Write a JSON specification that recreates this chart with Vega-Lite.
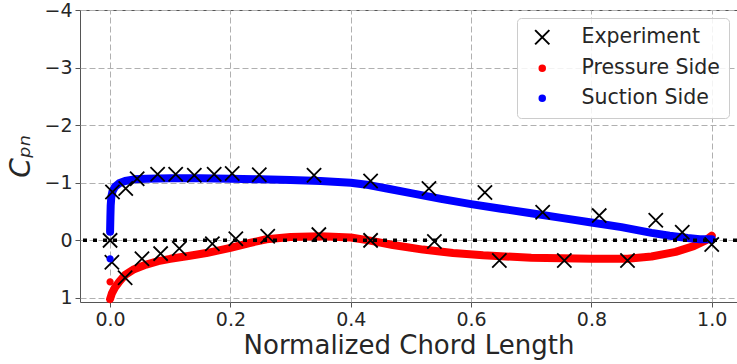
{
  "$schema": "https://vega.github.io/schema/vega-lite/v6.json",
  "autosize": "none",
  "width": 657,
  "height": 292,
  "padding": {"left": 80, "top": 10, "right": 0, "bottom": 62},
  "config": {
    "font": "DejaVu Sans",
    "view": {"stroke": "#555555", "strokeWidth": 1},
    "axis": {
      "labelFontSize": 19,
      "labelColor": "#262626",
      "titleColor": "#262626",
      "titleFontWeight": "normal",
      "tickColor": "#555555",
      "tickSize": 5,
      "domain": false,
      "gridColor": "#b0b0b0",
      "gridDash": [6, 3],
      "gridWidth": 1,
      "labelPadding": 3
    },
    "legend": {
      "orient": "top-right",
      "offset": 8,
      "labelFontSize": 20.5,
      "labelColor": "#262626",
      "strokeColor": "#cccccc",
      "fillColor": "rgba(255,255,255,0.85)",
      "cornerRadius": 4,
      "padding": 9,
      "rowPadding": 9,
      "symbolOffset": 6,
      "labelOffset": 29,
      "symbolSize": 30,
      "symbolStrokeWidth": 2
    }
  },
  "datasets": {
    "curves": [
      {"x": 0.0, "cp": 1.02, "series": "Pressure Side"},
      {"x": 0.003, "cp": 0.92, "series": "Pressure Side"},
      {"x": 0.008, "cp": 0.82, "series": "Pressure Side"},
      {"x": 0.015, "cp": 0.72, "series": "Pressure Side"},
      {"x": 0.025, "cp": 0.6, "series": "Pressure Side"},
      {"x": 0.04, "cp": 0.5, "series": "Pressure Side"},
      {"x": 0.06, "cp": 0.42, "series": "Pressure Side"},
      {"x": 0.08, "cp": 0.36, "series": "Pressure Side"},
      {"x": 0.1, "cp": 0.32, "series": "Pressure Side"},
      {"x": 0.13, "cp": 0.27, "series": "Pressure Side"},
      {"x": 0.16, "cp": 0.22, "series": "Pressure Side"},
      {"x": 0.2, "cp": 0.13, "series": "Pressure Side"},
      {"x": 0.23, "cp": 0.05, "series": "Pressure Side"},
      {"x": 0.26, "cp": -0.02, "series": "Pressure Side"},
      {"x": 0.3, "cp": -0.06, "series": "Pressure Side"},
      {"x": 0.35, "cp": -0.07, "series": "Pressure Side"},
      {"x": 0.4, "cp": -0.05, "series": "Pressure Side"},
      {"x": 0.43, "cp": 0.0, "series": "Pressure Side"},
      {"x": 0.47, "cp": 0.08, "series": "Pressure Side"},
      {"x": 0.52, "cp": 0.16, "series": "Pressure Side"},
      {"x": 0.57, "cp": 0.22, "series": "Pressure Side"},
      {"x": 0.62, "cp": 0.26, "series": "Pressure Side"},
      {"x": 0.7, "cp": 0.3, "series": "Pressure Side"},
      {"x": 0.8, "cp": 0.32, "series": "Pressure Side"},
      {"x": 0.86, "cp": 0.32, "series": "Pressure Side"},
      {"x": 0.9, "cp": 0.28, "series": "Pressure Side"},
      {"x": 0.94, "cp": 0.2, "series": "Pressure Side"},
      {"x": 0.97, "cp": 0.1, "series": "Pressure Side"},
      {"x": 0.99, "cp": 0.0, "series": "Pressure Side"},
      {"x": 1.0, "cp": -0.08, "series": "Pressure Side"},
      {"x": 0.0, "cp": -0.15, "series": "Suction Side"},
      {"x": 0.0005, "cp": -0.4, "series": "Suction Side"},
      {"x": 0.001, "cp": -0.6, "series": "Suction Side"},
      {"x": 0.002, "cp": -0.75, "series": "Suction Side"},
      {"x": 0.004, "cp": -0.85, "series": "Suction Side"},
      {"x": 0.008, "cp": -0.93, "series": "Suction Side"},
      {"x": 0.015, "cp": -0.99, "series": "Suction Side"},
      {"x": 0.025, "cp": -1.03, "series": "Suction Side"},
      {"x": 0.04, "cp": -1.06, "series": "Suction Side"},
      {"x": 0.06, "cp": -1.07, "series": "Suction Side"},
      {"x": 0.1, "cp": -1.08, "series": "Suction Side"},
      {"x": 0.15, "cp": -1.08, "series": "Suction Side"},
      {"x": 0.2, "cp": -1.07, "series": "Suction Side"},
      {"x": 0.25, "cp": -1.06, "series": "Suction Side"},
      {"x": 0.3, "cp": -1.05, "series": "Suction Side"},
      {"x": 0.35, "cp": -1.03, "series": "Suction Side"},
      {"x": 0.4, "cp": -1.0, "series": "Suction Side"},
      {"x": 0.43, "cp": -0.96, "series": "Suction Side"},
      {"x": 0.46, "cp": -0.9, "series": "Suction Side"},
      {"x": 0.5, "cp": -0.82, "series": "Suction Side"},
      {"x": 0.55, "cp": -0.72, "series": "Suction Side"},
      {"x": 0.6, "cp": -0.63, "series": "Suction Side"},
      {"x": 0.65, "cp": -0.55, "series": "Suction Side"},
      {"x": 0.7, "cp": -0.47, "series": "Suction Side"},
      {"x": 0.75, "cp": -0.39, "series": "Suction Side"},
      {"x": 0.8, "cp": -0.31, "series": "Suction Side"},
      {"x": 0.85, "cp": -0.23, "series": "Suction Side"},
      {"x": 0.9, "cp": -0.13, "series": "Suction Side"},
      {"x": 0.93, "cp": -0.08, "series": "Suction Side"},
      {"x": 0.96, "cp": -0.04, "series": "Suction Side"},
      {"x": 0.98, "cp": -0.02, "series": "Suction Side"},
      {"x": 1.0, "cp": -0.02, "series": "Suction Side"}
    ],
    "points": [
      {"x": 0.0, "cp": 0.0, "series": "Experiment"},
      {"x": 0.004, "cp": -0.84, "series": "Experiment"},
      {"x": 0.026, "cp": -0.9, "series": "Experiment"},
      {"x": 0.045, "cp": -1.07, "series": "Experiment"},
      {"x": 0.079, "cp": -1.15, "series": "Experiment"},
      {"x": 0.109, "cp": -1.15, "series": "Experiment"},
      {"x": 0.14, "cp": -1.13, "series": "Experiment"},
      {"x": 0.173, "cp": -1.15, "series": "Experiment"},
      {"x": 0.203, "cp": -1.16, "series": "Experiment"},
      {"x": 0.248, "cp": -1.14, "series": "Experiment"},
      {"x": 0.339, "cp": -1.13, "series": "Experiment"},
      {"x": 0.433, "cp": -1.03, "series": "Experiment"},
      {"x": 0.53, "cp": -0.9, "series": "Experiment"},
      {"x": 0.623, "cp": -0.83, "series": "Experiment"},
      {"x": 0.719, "cp": -0.49, "series": "Experiment"},
      {"x": 0.813, "cp": -0.43, "series": "Experiment"},
      {"x": 0.907, "cp": -0.35, "series": "Experiment"},
      {"x": 0.951, "cp": -0.14, "series": "Experiment"},
      {"x": 1.0, "cp": 0.07, "series": "Experiment"},
      {"x": 0.003, "cp": 0.38, "series": "Experiment"},
      {"x": 0.025, "cp": 0.65, "series": "Experiment"},
      {"x": 0.053, "cp": 0.32, "series": "Experiment"},
      {"x": 0.084, "cp": 0.23, "series": "Experiment"},
      {"x": 0.115, "cp": 0.14, "series": "Experiment"},
      {"x": 0.17, "cp": 0.06, "series": "Experiment"},
      {"x": 0.209, "cp": -0.03, "series": "Experiment"},
      {"x": 0.262, "cp": -0.07, "series": "Experiment"},
      {"x": 0.347, "cp": -0.1, "series": "Experiment"},
      {"x": 0.433, "cp": 0.0, "series": "Experiment"},
      {"x": 0.539, "cp": 0.02, "series": "Experiment"},
      {"x": 0.647, "cp": 0.35, "series": "Experiment"},
      {"x": 0.755, "cp": 0.35, "series": "Experiment"},
      {"x": 0.86, "cp": 0.35, "series": "Experiment"},
      {"x": 0.0, "cp": 0.72, "series": "Pressure Side"},
      {"x": 0.0, "cp": 0.32, "series": "Suction Side"}
    ]
  },
  "layer": [
    {
      "data": {"name": "curves"},
      "transform": [{"filter": "datum.series === 'Pressure Side'"}],
      "mark": {"type": "line", "color": "#ff0000", "strokeWidth": 8, "strokeCap": "round", "strokeJoin": "round"},
      "encoding": {
        "x": {
          "field": "x", "type": "quantitative",
          "scale": {"domain": [-0.05, 1.042], "nice": false, "zero": false},
          "axis": {"values": [0, 0.2, 0.4, 0.6, 0.8, 1.0], "format": ".1f", "title": "Normalized Chord Length", "titleFontSize": 26, "titlePadding": 3, "grid": true}
        },
        "y": {
          "field": "cp", "type": "quantitative",
          "scale": {"domain": [-4, 1.07], "reverse": true, "nice": false, "zero": false},
          "axis": {"values": [-4, -3, -2, -1, 0, 1], "format": "d", "title": "Cₚₙ", "titleFontSize": 28, "titleFontStyle": "italic", "titlePadding": 8, "grid": true}
        }
      }
    },
    {
      "data": {"name": "curves"},
      "transform": [{"filter": "datum.series === 'Suction Side'"}],
      "mark": {"type": "line", "color": "#0000ff", "strokeWidth": 8, "strokeCap": "round", "strokeJoin": "round"},
      "encoding": {
        "x": {"field": "x", "type": "quantitative"},
        "y": {"field": "cp", "type": "quantitative"}
      }
    },
    {
      "data": {"values": [{"v": 0}]},
      "mark": {"type": "rule", "color": "#000000", "strokeWidth": 3.5, "strokeDash": [4, 6]},
      "encoding": {"y": {"field": "v", "type": "quantitative"}}
    },
    {
      "data": {"name": "points"},
      "mark": {"type": "point", "filled": true, "opacity": 1, "strokeWidth": 1.8, "size": 30},
      "encoding": {
        "x": {"field": "x", "type": "quantitative"},
        "y": {"field": "cp", "type": "quantitative"},
        "fill": {"field": "series", "type": "nominal", "scale": {"domain": ["Experiment", "Pressure Side", "Suction Side"], "range": ["#000000", "#ff0000", "#0000ff"]}, "legend": {"title": null}},
        "stroke": {"field": "series", "type": "nominal", "scale": {"domain": ["Experiment", "Pressure Side", "Suction Side"], "range": ["#000000", "#ff0000", "#0000ff"]}, "legend": {"title": null}},
        "shape": {"field": "series", "type": "nominal", "scale": {"domain": ["Experiment", "Pressure Side", "Suction Side"], "range": ["M-2.6,-2.6L2.6,2.6M-2.6,2.6L2.6,-2.6", "circle", "circle"]}, "legend": {"title": null}}
      }
    }
  ]
}
